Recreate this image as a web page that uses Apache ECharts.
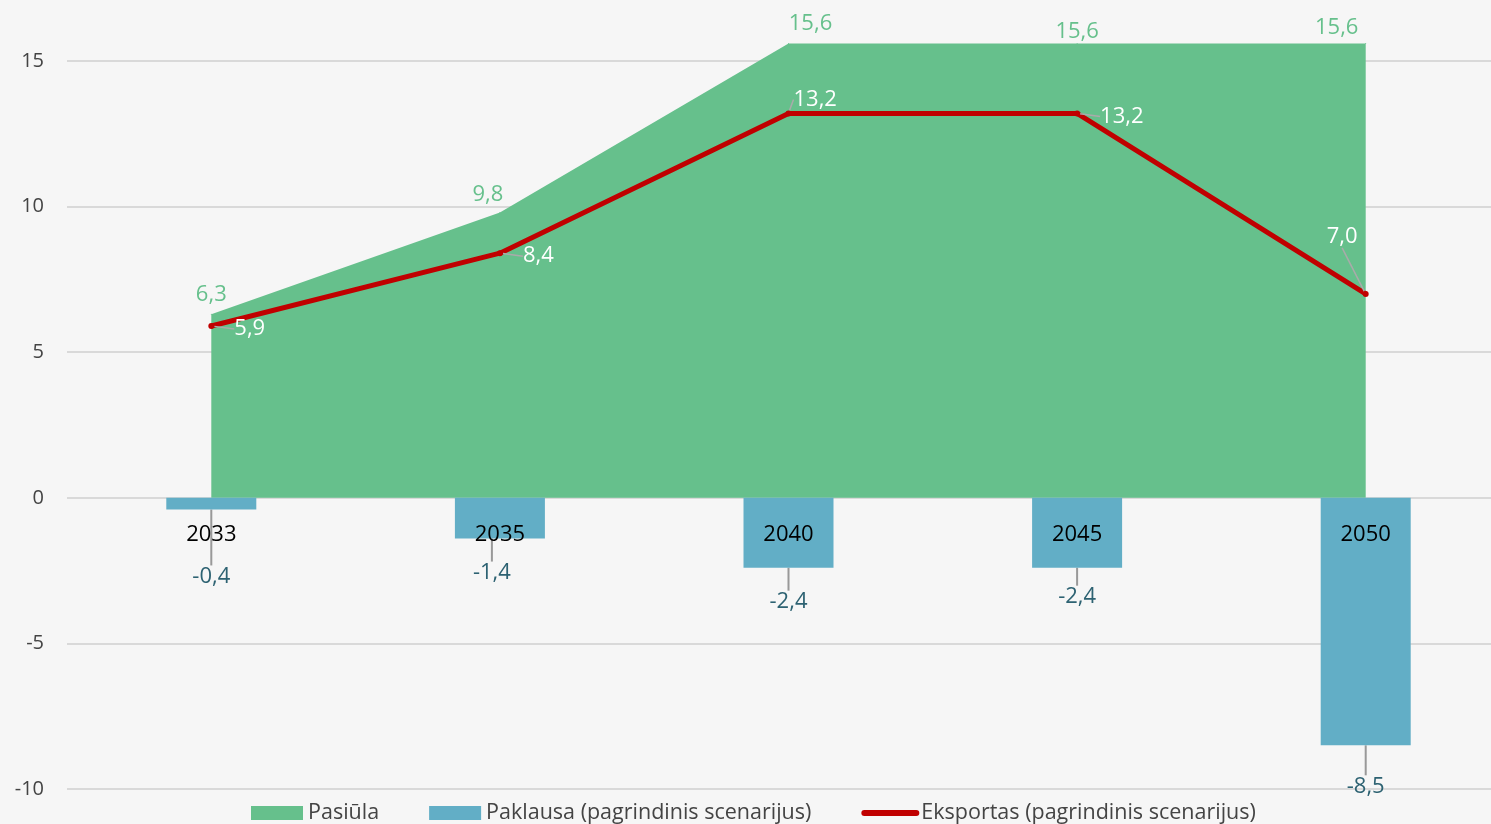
<!DOCTYPE html>
<html><head><meta charset="utf-8">
<script src="https://cdn.jsdelivr.net/npm/echarts@6/dist/echarts.min.js"></script>
<style>html,body{margin:0;padding:0;background:#f6f6f6;}#c{width:1491px;height:824px;}</style>
</head><body><div id="c"></div>
<script>
const years = ['2033', '2035', '2040', '2045', '2050'];
const pasiula = [6.3, 9.8, 15.6, 15.6, 15.6];
const paklausa = [-0.4, -1.4, -2.4, -2.4, -8.5];
const eksportas = [5.9, 8.4, 13.2, 13.2, 7.0];
const yTicks = [-10, -5, 0, 5, 10, 15];

const fmt = v => Number(v).toFixed(1).replace('.', ',');
const FONT = '"Open Sans", "Noto Sans", sans-serif';
const chart = echarts.init(document.getElementById('c'), null, {renderer: 'canvas'});
const areaShift = [{}, {dx: -12, dy: 2}, {dx: 22}, {dy: 8}, {dx: -29, dy: 4}];
const barShift = [{dy: 33}, {dx: -8}, {}, {dy: -5}, {dy: 7}];
chart.setOption({
  backgroundColor: '#f6f6f6',
  textStyle: {fontFamily: FONT},
  animation: false,
  grid: {left: 67, width: 1443, top: 61, bottom: 35, containLabel: false, outerBoundsMode: 'none'},
  legend: {
    top: 797, left: 246, itemWidth: 52, itemHeight: 14, itemGap: 50, padding: [5, 0, 5, 5],
    textStyle: {fontSize: 21.5, color: '#444', fontFamily: FONT},
    data: [
      {name: 'Pasiūla', icon: 'rect'},
      {name: 'Paklausa (pagrindinis scenarijus)', icon: 'rect'},
      {name: 'Eksportas (pagrindinis scenarijus)',
        itemStyle: {opacity: 0}, lineStyle: {width: 6, cap: 'round', color: '#c00000'}}
    ]
  },
  xAxis: {
    type: 'category', data: years, boundaryGap: true, z: 10, offset: -291,
    axisLine: {show: false, onZero: false},
    axisTick: {show: false},
    axisLabel: {margin: 26, fontSize: 22, color: '#000', fontFamily: FONT},
    splitLine: {show: false}
  },
  yAxis: {
    type: 'value', min: yTicks[0], max: yTicks[yTicks.length - 1], interval: 5,
    axisLine: {show: false}, axisTick: {show: false},
    axisLabel: {margin: 23, fontSize: 20, color: '#444', fontFamily: FONT},
    splitLine: {lineStyle: {color: '#d9d9d9', width: 2}}
  },
  series: [
    {
      name: 'Pasiūla', type: 'line', data: pasiula, clip: false, z: 2,
      symbol: 'circle', symbolSize: 1, itemStyle: {color: '#66c08c'},
      lineStyle: {width: 0}, areaStyle: {color: '#66c08c', opacity: 1},
      label: {show: true, position: 'top', distance: 8, fontSize: 22, color: '#66c08c',
        fontFamily: FONT, formatter: p => fmt(p.value)},
      labelLayout: p => areaShift[p.dataIndex]
    },
    {
      name: 'Paklausa (pagrindinis scenarijus)', type: 'bar', data: paklausa, barWidth: 90, z: 3,
      itemStyle: {color: '#62aec6'},
      label: {show: true, position: 'bottom', distance: 23, fontSize: 22, color: '#2d6272',
        fontFamily: FONT, formatter: p => fmt(p.value)},
      labelLine: {show: true, lineStyle: {color: '#999', width: 2}},
      labelLayout: p => barShift[p.dataIndex]
    },
    {
      name: 'Eksportas (pagrindinis scenarijus)', type: 'line', data: eksportas, z: 5,
      symbol: 'circle', symbolSize: 6, itemStyle: {color: '#c00000'},
      lineStyle: {color: '#c00000', width: 5},
      label: {show: true, position: 'right', distance: 20, fontSize: 22, color: '#ffffff',
        fontFamily: FONT, formatter: p => fmt(p.value)},
      labelLine: {show: true, lineStyle: {color: '#aaa', width: 1.5}},
      labelLayout: p => p.dataIndex === 2 ? {dx: -18, dy: -14} : (p.dataIndex === 4 ? {dx: -62, dy: -57} : {dy: 3})
    }
  ]
});
</script></body></html>
